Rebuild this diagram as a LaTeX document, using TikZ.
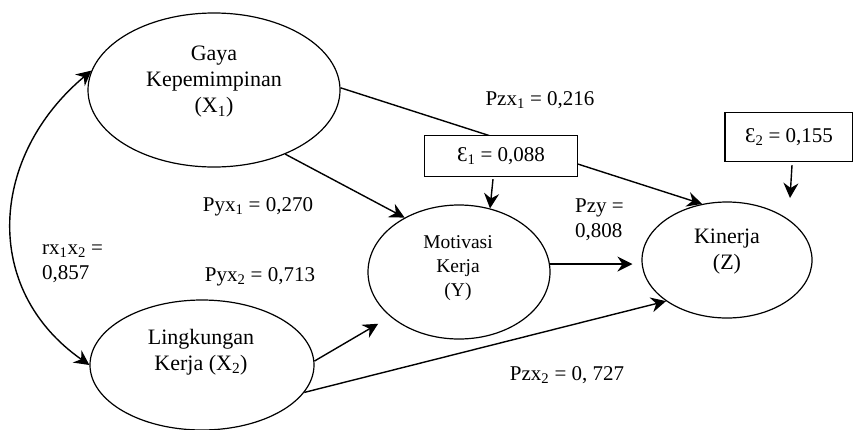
\documentclass[tikz,border=0pt]{standalone}
\usepackage{fontspec}
\setmainfont{Liberation Serif}
\usetikzlibrary{shapes.geometric,arrows.meta}
\begin{document}
\begin{tikzpicture}[x=1pt,y=-1pt,
  font=\fontsize{21}{25}\selectfont,
  var/.style={draw, ellipse, line width=1.2pt, inner sep=0pt},
  vtext/.style={inner sep=0pt, align=center, font=\fontsize{22}{26}\selectfont},
  errbox/.style={draw, rectangle, line width=1.2pt, inner sep=0pt, fill=white},
  lbl/.style={inner sep=0pt, align=center},
  arr/.style={line width=1.4pt, -{Stealth[length=15pt,width=15pt,inset=5pt]}},
  arrb/.style={line width=1.4pt, {Stealth[length=15pt,width=15pt,inset=5pt]}-{Stealth[length=15pt,width=15pt,inset=5pt]}}]
\useasboundingbox (0,0) rectangle (853,429);
% variables
\node[var, minimum width=252pt, minimum height=154pt] (X1) at (214,90) {};
\node[vtext] (X1t) at (214,82) {Gaya\\Kepemimpinan\\(X\textsubscript{1})};
\node[var, minimum width=224pt, minimum height=130pt] (X2) at (202,365) {};
\node[vtext] (X2t) at (201,352) {Lingkungan\\Kerja (X\textsubscript{2})};
\node[var, minimum width=182pt, minimum height=134pt] (Y) at (459,272) {};
\node[vtext, font=\fontsize{19.5}{24}\selectfont] (Yt) at (458,268) {Motivasi\\Kerja\\(Y)};
\node[var, minimum width=170pt, minimum height=116pt] (Z) at (727,260) {};
\node[vtext] (Zt) at (727,252) {Kinerja\\(Z)};
% paths
\draw[arr] (X1.1) -- (Z.114);
\draw[arr] (X1.-42) -- (Y.135);
\draw[arr, shorten >=9pt] (Y.5) -- (Y.5 -| Z.west);
\draw[arr, shorten >=14pt] (X2.2) -- (Y.213);
\draw[arr] (X2.-15) -- (Z.214);
\draw[arrb] (X1.171) to[out=220, in=145, looseness=1.15] (X2.west);
% error boxes
\node[errbox, minimum width=153pt, minimum height=41pt] (e1) at (501,156) {Ɛ\textsubscript{1} = 0,088};
\node[errbox, minimum width=128pt, minimum height=49pt] (e2) at (789,137) {Ɛ\textsubscript{2} = 0,155};
\draw[arr] ([xshift=-8pt,yshift=-2pt]e1.south) -- (Y.64);
\coordinate (e2end) at (790,198);
\draw[arr] ([xshift=3pt,yshift=-3pt]e2.south) -- (e2end);
% labels
\node[lbl] (l1) at (540,100) {Pzx\textsubscript{1} = 0,216};
\node[lbl] (l2) at (258,207) {Pyx\textsubscript{1} = 0,270};
\node[lbl, anchor=west, align=left] (l3) at (42,264) {rx\textsubscript{1}x\textsubscript{2} =\\0,857};
\node[lbl] (l4) at (260,277) {Pyx\textsubscript{2} = 0,713};
\node[lbl, anchor=west, align=left] (l5) at (575,220) {Pzy =\\0,808};
\node[lbl] (l6) at (567,375) {Pzx\textsubscript{2} = 0, 727};
\end{tikzpicture}
\end{document}
